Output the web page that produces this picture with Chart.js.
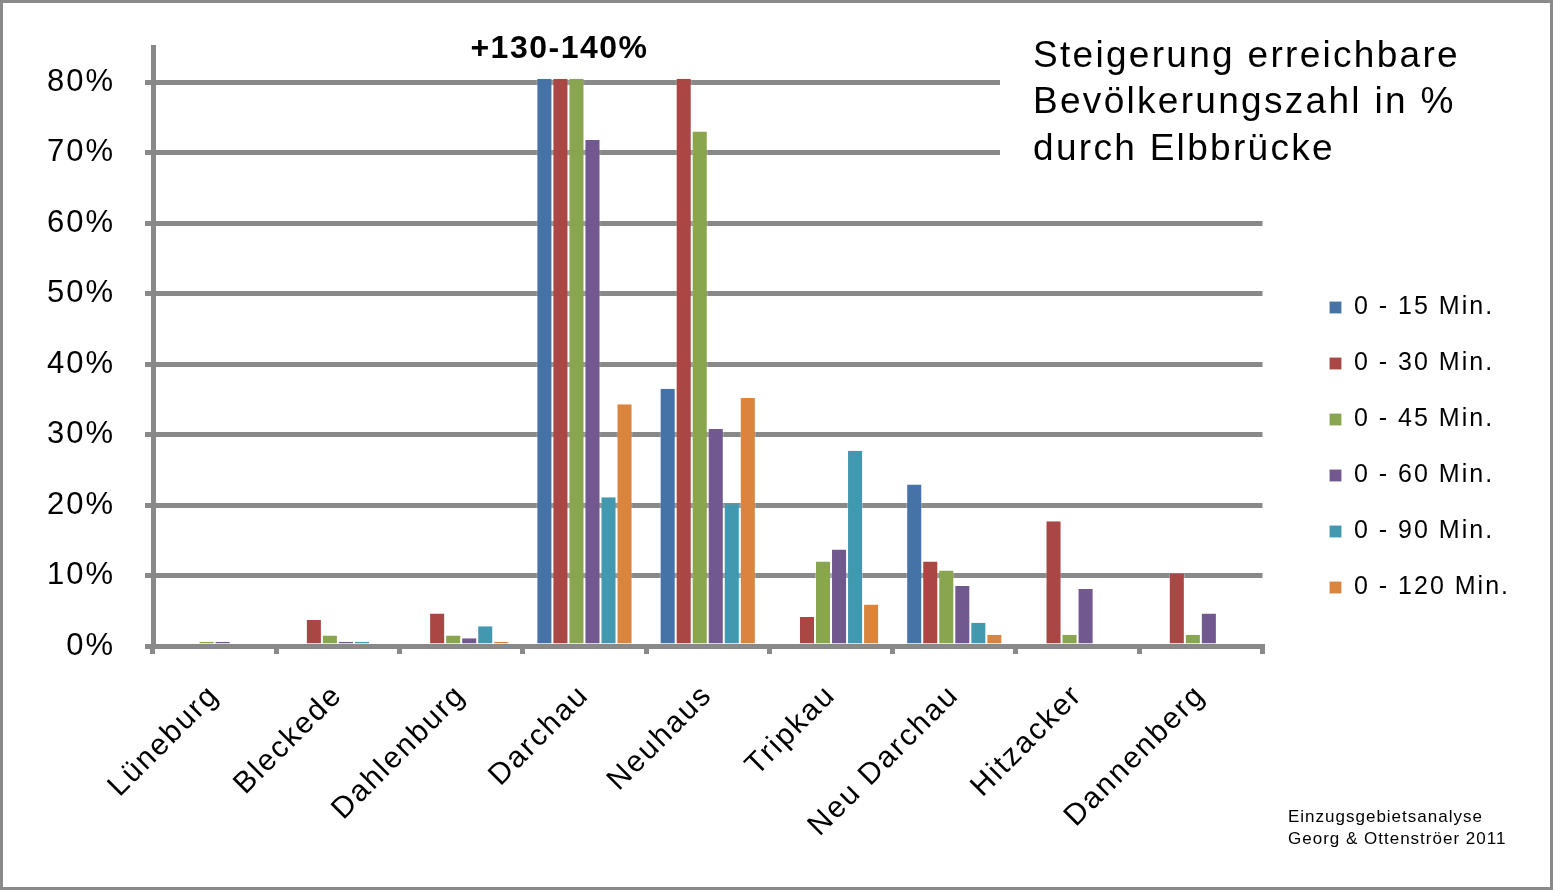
<!DOCTYPE html>
<html><head><meta charset="utf-8">
<script src="https://cdn.jsdelivr.net/npm/chart.js@4.4.0/dist/chart.umd.min.js"></script>
<style>html,body{margin:0;padding:0;background:#fff}canvas{display:block}</style>
</head><body>
<canvas id="c" width="1553" height="890"></canvas>
<script>
const categories = ['Lüneburg','Bleckede','Dahlenburg','Darchau','Neuhaus','Tripkau','Neu Darchau','Hitzacker','Dannenberg'];
const seriesNames = ['0 - 15 Min.','0 - 30 Min.','0 - 45 Min.','0 - 60 Min.','0 - 90 Min.','0 - 120 Min.'];
const min15  = [0,   0,   0,   80.5, 36.5, 0,    22.9, 0,    0];
const min30  = [0,   3.7, 4.6, 80.5, 80.5, 4.1,  12.0, 17.7, 10.3];
const min45  = [0.6, 1.5, 1.5, 80.5, 73.0, 12.0, 10.7, 1.6,  1.6];
const min60  = [0.6, 0.6, 1.1, 71.8, 30.8, 13.7, 8.5,  8.1,  4.6];
const min90  = [0,   0.6, 2.8, 21.1, 20.1, 27.7, 3.3,  0,    0];
const min120 = [0,   0,   0.6, 34.3, 35.2, 5.9,  1.6,  0,    0];
const yTickValues = [0,10,20,30,40,50,60,70,80];
const yMax = 85;
const titleLines = ['Steigerung erreichbare','Bevölkerungszahl in %','durch Elbbrücke'];
const annotationText = '+130-140%';
const footerLines = ['Einzugsgebietsanalyse','Georg & Ottenströer 2011'];

const colors = ['#4572A7','#AA4643','#89A54E','#71588F','#4198AF','#DB843D'];
const seriesValues = [min15,min30,min45,min60,min90,min120];
const FONT = "'Liberation Sans', Arial, sans-serif";
const GRID = '#898989';

const decor = {
  id: 'decor',
  beforeUpdate(chart){ chart.ctx.letterSpacing = '2px'; },
  beforeLayout(chart){ chart.ctx.letterSpacing = '2px'; },
  beforeDraw(chart){
    const ctx = chart.ctx;
    ctx.save();
    ctx.fillStyle = '#fff';
    ctx.fillRect(0,0,chart.width,chart.height);
    ctx.restore();
    ctx.letterSpacing = '2px';
  },
  afterDraw(chart){
    const ctx = chart.ctx, xs = chart.scales.x, ys = chart.scales.y;
    ctx.save();
    ctx.fillStyle = '#fff';
    const boxTop = chart.chartArea.top - 4;
    ctx.fillRect(1000, boxTop, xs.right + 4 - 1000, ys.getPixelForValue(65) - boxTop);
    ctx.fillStyle = '#000';
    ctx.textBaseline = 'middle';
    ctx.textAlign = 'left';
    ctx.letterSpacing = '2.3px';
    ctx.font = '37px ' + FONT;
    const ty = [57, 103, 150];
    titleLines.forEach((t,i)=>ctx.fillText(t, 1033, ty[i]));
    ctx.font = 'bold 32px ' + FONT;
    ctx.letterSpacing = '1.5px';
    ctx.textAlign = 'center';
    ctx.fillText(annotationText, xs.getPixelForValue(3) - 25, 49);
    ctx.font = '17px ' + FONT;
    ctx.textAlign = 'left';
    ctx.letterSpacing = '1px';
    ctx.fillText(footerLines[0], 1288, 817);
    ctx.fillText(footerLines[1], 1288, 839);
    ctx.strokeStyle = '#8a8a8a';
    ctx.lineWidth = 3;
    ctx.strokeRect(1.5,1.5,chart.width-3,chart.height-3);
    ctx.restore();
  }
};

new Chart(document.getElementById('c'), {
  type: 'bar',
  data: {
    labels: categories,
    datasets: seriesNames.map((n,i)=>({
      label: n,
      data: seriesValues[i],
      backgroundColor: colors[i],
      borderColor: 'rgba(255,255,255,0.35)',
      borderWidth: { left: 1, right: 1, top: 0, bottom: 0 },
      categoryPercentage: 0.78,
      barPercentage: 1.0
    }))
  },
  options: {
    responsive: false,
    animation: false,
    devicePixelRatio: 1,
    layout: { padding: { left: 10, right: 33, top: 15, bottom: 10 } },
    plugins: {
      tooltip: { enabled: false },
      title: { display: false },
      legend: {
        position: 'right',
        align: 'center',
        labels: {
          boxWidth: 12, boxHeight: 12, padding: 31,
          color: '#000',
          font: { family: FONT, size: 25 }
        }
      }
    },
    scales: {
      x: {
        offset: true,
        grid: { offset: true, drawOnChartArea: false, drawTicks: true, tickLength: 8, lineWidth: 5, color: GRID },
        border: { display: true, color: GRID, width: 5, z: 1 },
        ticks: { color: '#000', font: { family: FONT, size: 30 }, minRotation: 45, maxRotation: 45, padding: 24, autoSkip: false },
        afterFit: s => { s.height = 234; }
      },
      y: {
        min: 0, max: yMax,
        afterBuildTicks: s => { s.ticks = yTickValues.map(v=>({value:v})); },
        grid: { color: GRID, lineWidth: 5, tickLength: 8 },
        border: { display: true, color: GRID, width: 5 },
        ticks: { color: '#000', font: { family: FONT, size: 31 }, padding: 30, callback: v => v + '%' },
        afterFit: s => { s.width = 143; s.paddingTop = 47; }
      },
      y2: {
        position: 'right',
        display: true,
        grid: { display: false, drawTicks: false },
        border: { display: false },
        ticks: { display: false },
        afterFit: s => { s.width = 36; }
      }
    }
  },
  plugins: [decor]
});
</script>
</body></html>
